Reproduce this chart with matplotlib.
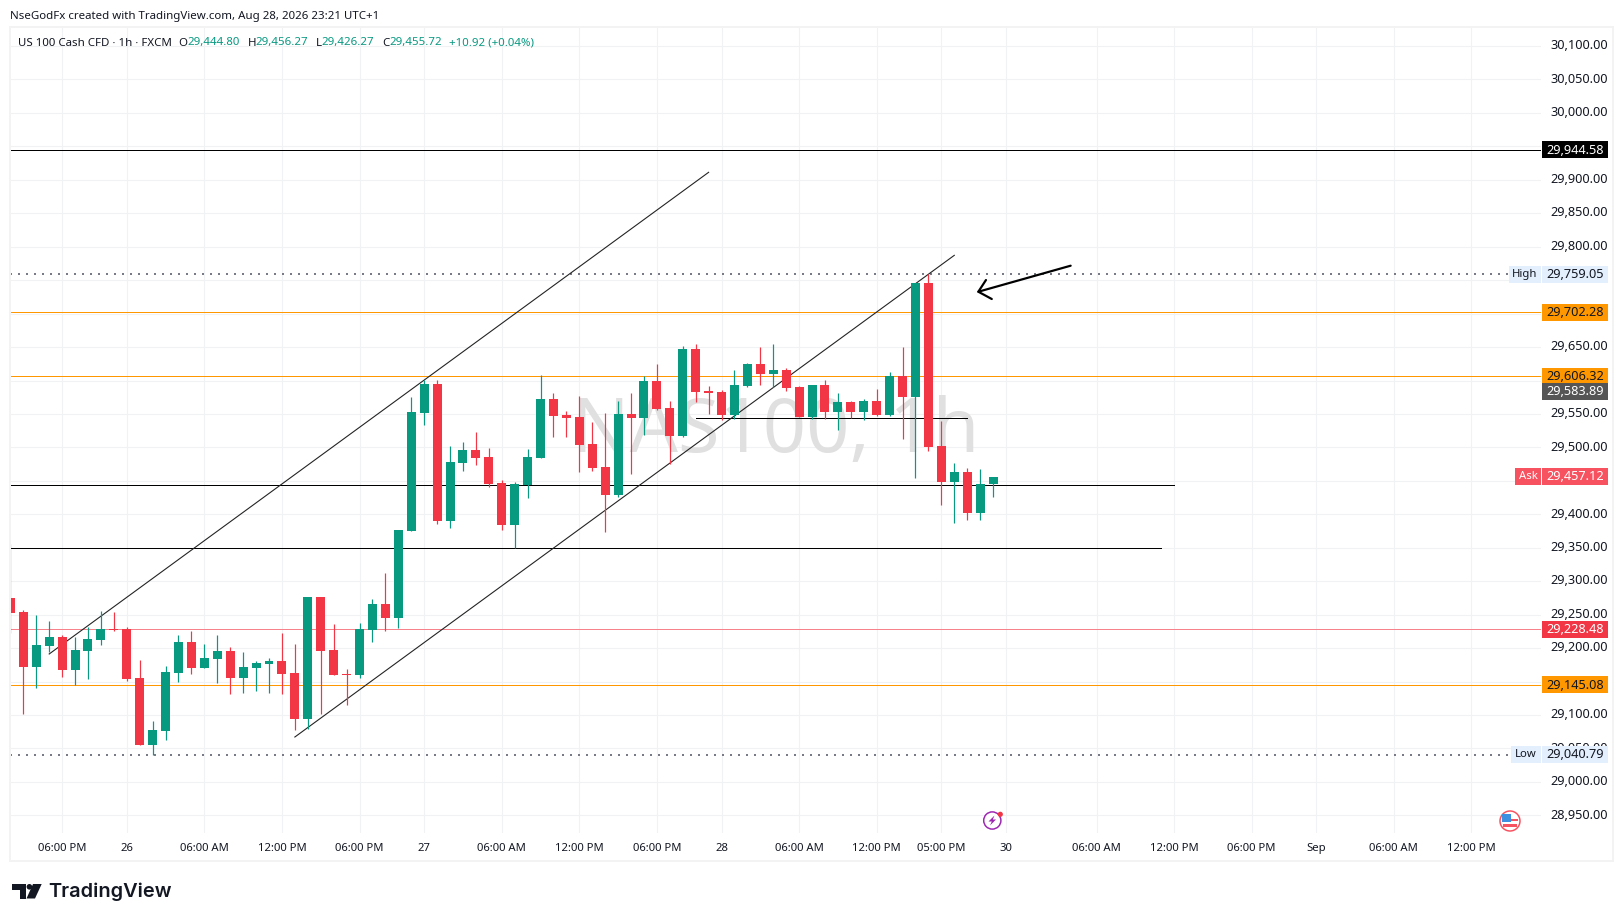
import matplotlib
matplotlib.use("Agg")
import matplotlib.pyplot as plt
from matplotlib.patches import Rectangle, Circle, Polygon

# candle data (one hour per bar)
opens = [29274.9, 29254.0, 29171.7, 29203.1, 29216.6, 29167.3, 29195.7, 29212.1, 29228.1, 29228.6,
         29155.3, 29055.1, 29076.1, 29162.8, 29209.1, 29170.2, 29183.7, 29195.7, 29155.3, 29170.2,
         29176.2, 29180.7, 29162.8, 29094.0, 29276.4, 29197.2, 29161.3, 29159.8, 29227.1, 29265.9,
         29245.0, 29375.0, 29551.4, 29594.7, 29389.9, 29476.6, 29496.1, 29485.6, 29446.7, 29383.9,
         29443.7, 29484.1, 29572.3, 29548.4, 29545.4, 29505.0, 29470.6, 29428.8, 29549.9, 29543.9,
         29599.2, 29558.8, 29517.0, 29647.1, 29584.3, 29582.8, 29548.4, 29591.7, 29624.6, 29609.7,
         29615.7, 29590.2, 29545.4, 29593.2, 29552.9, 29567.8, 29552.9, 29569.3, 29548.4, 29606.7,
         29575.3, 29745.7, 29502.0, 29448.2, 29463.2, 29401.9, 29444.80]
highs = [29355.6, 29256.9, 29249.5, 29240.5, 29219.6, 29216.6, 29231.5, 29255.5, 29254.0, 29231.5,
         29182.2, 29091.0, 29173.2, 29219.6, 29225.6, 29206.1, 29219.6, 29201.6, 29194.2, 29180.7,
         29185.2, 29222.6, 29206.1, 29276.4, 29276.4, 29236.0, 29168.8, 29237.5, 29273.4, 29312.3,
         29376.5, 29575.3, 29600.7, 29600.7, 29502.0, 29508.0, 29523.0, 29499.0, 29451.2, 29448.2,
         29497.6, 29608.2, 29581.3, 29554.4, 29576.8, 29537.9, 29551.4, 29569.3, 29581.3, 29606.7,
         29624.6, 29569.3, 29651.5, 29654.5, 29591.7, 29585.8, 29615.7, 29626.1, 29650.0, 29654.5,
         29618.7, 29591.7, 29593.2, 29600.7, 29581.3, 29569.3, 29572.3, 29587.3, 29612.7, 29650.0,
         29745.7, 29759.05, 29539.4, 29476.6, 29469.2, 29467.7, 29456.27]
lows = [29223.1, 29101.5, 29140.4, 29194.2, 29156.8, 29144.8, 29153.8, 29204.6, 29225.6, 29150.8,
        29055.1, 29040.79, 29062.6, 29149.3, 29161.3, 29170.2, 29147.8, 29131.4, 29132.9, 29135.9,
        29132.9, 29131.4, 29077.6, 29079.1, 29101.5, 29159.8, 29114.9, 29155.3, 29209.1, 29225.6,
        29230.0, 29375.0, 29533.4, 29385.4, 29379.5, 29464.7, 29473.6, 29440.7, 29376.5, 29349.6,
        29424.3, 29484.1, 29515.5, 29515.5, 29463.2, 29464.7, 29373.5, 29425.8, 29460.2, 29518.5,
        29555.9, 29475.1, 29515.5, 29567.8, 29549.9, 29540.9, 29542.4, 29590.2, 29593.2, 29590.2,
        29584.3, 29545.4, 29542.4, 29542.4, 29526.0, 29543.9, 29540.9, 29546.9, 29546.9, 29512.5,
        29454.2, 29494.6, 29413.8, 29386.9, 29391.4, 29391.4, 29426.27]
closes = [29252.5, 29171.7, 29204.6, 29216.6, 29167.3, 29197.2, 29213.6, 29228.6, 29226.6, 29153.8,
          29055.1, 29077.6, 29164.3, 29209.1, 29170.2, 29185.2, 29195.7, 29155.3, 29171.7, 29177.7,
          29180.7, 29161.3, 29094.0, 29276.4, 29195.7, 29159.8, 29159.8, 29228.6, 29265.9, 29245.0,
          29376.5, 29552.9, 29594.7, 29389.9, 29478.1, 29496.1, 29484.1, 29445.2, 29383.9, 29445.2,
          29485.6, 29572.3, 29546.9, 29543.9, 29503.5, 29469.2, 29428.8, 29549.9, 29543.9, 29599.2,
          29557.4, 29517.0, 29647.1, 29582.8, 29581.3, 29548.4, 29593.2, 29624.6, 29609.7, 29615.7,
          29588.8, 29545.4, 29593.2, 29552.9, 29567.8, 29552.9, 29569.3, 29548.4, 29606.7, 29575.3,
          29745.7, 29500.6, 29448.2, 29463.2, 29401.9, 29445.2, 29455.72]

price_ticks = [30100, 30050, 30000, 29950, 29900, 29850, 29800, 29750, 29700, 29650, 29600, 29550,
               29500, 29450, 29400, 29350, 29300, 29250, 29200, 29150, 29100, 29050, 29000, 28950]
# these ones sit behind a price tag so no label is drawn for them
hidden_ticks = [29750, 29700, 29600, 29450]
time_ticks = [4, 9, 15, 21, 27, 32, 38, 44, 50, 55, 61, 67, 72, 77, 84, 90, 96, 101, 107, 113]
time_labels = ["06:00 PM", "26", "06:00 AM", "12:00 PM", "06:00 PM", "27", "06:00 AM", "12:00 PM",
               "06:00 PM", "28", "06:00 AM", "12:00 PM", "05:00 PM", "30", "06:00 AM", "12:00 PM",
               "06:00 PM", "Sep", "06:00 AM", "12:00 PM"]

# drawings
level_black_top = 29944.58
level_orange = [29702.28, 29606.32, 29145.08]
level_red = 29228.48
level_high = 29759.05
level_low = 29040.79
level_current = 29583.89
level_ask = 29457.12
level_mid = 29444.5
level_mid_end = 90
level_bottom = 29350.0
level_bottom_end = 89
short_level = (53, 74, 29543.4)
channel_upper = ([3, 54], [29191.2, 29911.2])
channel_lower = ([22, 73], [29067.1, 29787.1])
arrow_shaft = ([82, 74.86], [29771.6, 29732.7])
arrow_head = ([75.45, 74.86, 75.9], [29750.2, 29732.7, 29721.8])

W, H = 1623, 921
GREEN = "#089981"
RED = "#f23645"
ORANGE = "#ff9800"
GRID = "#f1f2f4"
TEXT = "#131722"
FONT = ["Noto Sans", "DejaVu Sans"]
PX = 0.72  # points per pixel at dpi 100

plt.rcParams["font.family"] = FONT

fig = plt.figure(figsize=(W / 100, H / 100), dpi=100, facecolor="white")
left, right, top, bottom = 10.4, 1541, 27, 833
ax = fig.add_axes([left / W, 1 - bottom / H, (right - left) / W, (bottom - top) / H])
ax.set_xlim(0, (right - left) / 12.93)
ax.set_ylim(30100 - (bottom - 46) / 0.669, 30100 + (46 - top) / 0.669)
for s in ax.spines.values():
    s.set_visible(False)
ax.set_xticks([])
ax.set_yticks([])

# grid
for p in price_ticks:
    ax.axhline(p, color=GRID, lw=PX * 1.1, zorder=1)
for t in time_ticks:
    ax.axvline(t, color=GRID, lw=PX * 1.1, zorder=1)

# watermark
ax.text(59.2, 29522, "NAS100, 1h", fontsize=54.5, color="#e0e0e0", ha="center", va="center", zorder=2)

# levels and drawings
ax.axhline(level_black_top, color="black", lw=PX, zorder=3)
for lv in level_orange:
    ax.axhline(lv, color=ORANGE, lw=PX, zorder=3)
ax.axhline(level_red, color="#f7828b", lw=PX, zorder=3)
for lv in [level_high, level_low]:
    ax.axhline(lv, color="#787b86", lw=PX * 2, ls=(0, (1, 3)), zorder=3)
ax.plot([0, level_mid_end], [level_mid, level_mid], color="black", lw=PX, zorder=3)
ax.plot([0, level_bottom_end], [level_bottom, level_bottom], color="black", lw=PX, zorder=3)
ax.plot(short_level[:2], [short_level[2]] * 2, color="black", lw=PX, zorder=3)
ax.plot(*channel_upper, color="#222222", lw=PX * 1.1, zorder=3)
ax.plot(*channel_lower, color="#222222", lw=PX * 1.1, zorder=3)
ax.plot(*arrow_shaft, color="black", lw=PX * 2.2, solid_capstyle="round", zorder=3)
ax.plot(*arrow_head, color="black", lw=PX * 2.2, solid_capstyle="round", zorder=3)

# candles
for i in range(len(opens)):
    col = GREEN if closes[i] >= opens[i] else RED
    ax.vlines(i, lows[i], highs[i], color=col, lw=PX * 1.2, zorder=4)
    ax.bar(i, abs(closes[i] - opens[i]), bottom=min(opens[i], closes[i]), width=0.696,
           color=col, linewidth=0, zorder=5)

# overlay in pixel coordinates for the axis labels, tags and icons
ov = fig.add_axes([0, 0, 1, 1], zorder=10, facecolor="none")
ov.set_xlim(0, W)
ov.set_ylim(H, 0)
ov.axis("off")


def py(price):
    return H - ax.transData.transform((0, price))[1]


def px(i):
    return ax.transData.transform((i, 0))[0]


# frame
ov.add_patch(Rectangle((10, 27), 1603, 834, fill=False, ec="#f3f3f4", lw=PX * 2))

FS = 12.8 * PX      # price scale
FS_TIME = 11.3 * PX
FS_HEAD = 11.5 * PX
for p in price_ticks:
    if p in hidden_ticks:
        continue
    ov.text(1550, py(p) - 0.3, f"{p:,.2f}", fontsize=FS, color=TEXT, va="center", ha="left")
for t, lab in zip(time_ticks, time_labels):
    ov.text(px(t), 848, lab, fontsize=FS_TIME, color=TEXT, va="center", ha="center")


def tag(price, text, bg, fg):
    y = py(price)
    ov.add_patch(Rectangle((1542, y - 8.5), 66, 17, fc=bg, ec="none", zorder=6))
    ov.text(1575, y + 0.3, text, fontsize=FS, color=fg, va="center", ha="center", zorder=7)


def side_tag(price, text, x0, bg, fg):
    y = py(price)
    ov.add_patch(Rectangle((x0, y - 8.5), 1541 - x0, 17, fc=bg, ec="none", zorder=6))
    ov.text((x0 + 1541) / 2, y + 0.3, text, fontsize=FS_TIME, color=fg, va="center", ha="center", zorder=7)


tag(level_black_top, f"{level_black_top:,.2f}", "black", "white")
tag(level_high, f"{level_high:,.2f}", "#e3effd", TEXT)
side_tag(level_high, "High", 1509, "#e3effd", TEXT)
tag(level_orange[0], f"{level_orange[0]:,.2f}", ORANGE, TEXT)
tag(level_orange[1], f"{level_orange[1]:,.2f}", ORANGE, TEXT)
tag(level_current, f"{level_current:,.2f}", "#555555", "white")
tag(level_ask, f"{level_ask:,.2f}", "#f7525f", "white")
side_tag(level_ask, "Ask", 1515, "#f7525f", "white")
ov.add_patch(Rectangle((1515, py(level_ask) + 8.5), 93, 0.8, fc="#2962ff", ec="none", zorder=7))
tag(level_red, f"{level_red:,.2f}", RED, "white")
tag(level_orange[2], f"{level_orange[2]:,.2f}", ORANGE, TEXT)
tag(level_low, f"{level_low:,.2f}", "#e3effd", TEXT)
side_tag(level_low, "Low", 1511, "#e3effd", TEXT)

# header
ov.text(10, 16, "NseGodFx created with TradingView.com, Aug 28, 2026 23:21 UTC+1",
        fontsize=FS_HEAD, color=TEXT, va="center")
legend_y = 43
ov.text(18, legend_y, "US 100 Cash CFD · 1h · FXCM", fontsize=FS_HEAD, color=TEXT, va="center")
for x, s, c in [(178.5, "O", TEXT), (187.5, "29,444.80", GREEN), (248, "H", TEXT), (255.5, "29,456.27", GREEN),
                (316, "L", TEXT), (321.5, "29,426.27", GREEN), (382, "C", TEXT), (389, "29,455.72", GREEN),
                (449, "+10.92 (+0.04%)", GREEN)]:
    ov.text(x, legend_y, s, fontsize=FS_HEAD, color=c, va="center")

# logo
ov.add_patch(Polygon([(12, 884), (25.5, 884), (25.5, 898.5), (19.5, 898.5), (19.5, 889.5), (12, 889.5)], fc="#131722", ec="none"))
ov.add_patch(Circle((29.4, 886.8), 2.8, fc="#131722", ec="none"))
ov.add_patch(Polygon([(33, 884), (41.7, 884), (35, 898.5), (26.5, 898.5)], fc="#131722", ec="none"))
ov.text(48.7, 892, "TradingView", fontsize=20 * PX, family=["Inter", "DejaVu Sans"], weight="semibold",
        color="#131722", va="center")

# lightning icon
ov.add_patch(Circle((992.3, 820.5), 8.6, fc="white", ec="#9c27b0", lw=PX * 1.5))
ov.add_patch(Polygon([(994.5, 815.5), (988.5, 821.5), (991.8, 821.5), (990, 825.5), (996, 819.5), (992.8, 819.5)],
                     fc="#9c27b0", ec="none"))
ov.add_patch(Circle((1000.3, 814.3), 2.6, fc=RED, ec="none"))

# flag icon
ov.add_patch(Circle((1510, 821), 10, fc="white", ec="#f7525f", lw=PX * 1.5))
ov.add_patch(Rectangle((1502, 818.5), 16, 2.8, fc="#f7525f", ec="none"))
ov.add_patch(Rectangle((1503, 824), 14, 2.8, fc="#f7525f", ec="none"))
ov.add_patch(Rectangle((1502, 813.5), 9, 8.5, fc="#3d8fe0", ec="none"))

fig.savefig("out.png", dpi=100)
